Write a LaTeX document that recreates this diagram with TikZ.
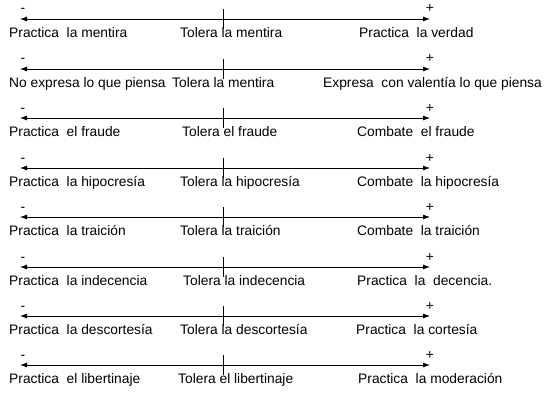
\documentclass[tikz,border=0pt]{standalone}
\usepackage{fontspec}
\setmainfont{Liberation Sans}
\usetikzlibrary{arrows.meta}
\begin{document}
\begin{tikzpicture}[x=1pt,y=-1pt,font=\fontsize{13.8}{16}\selectfont,
    every node/.style={inner sep=0pt,anchor=base west},
    sign/.style={anchor=base}]
      \useasboundingbox (0,0) rectangle (554,404);
      \path
        (20,19) coordinate (l1) (430,19) coordinate (r1) (223,9) coordinate (c1) (223,29) coordinate (d1)
        (20,69) coordinate (l2) (430,69) coordinate (r2) (223,59) coordinate (c2) (223,79) coordinate (d2)
        (20,118) coordinate (l3) (430,118) coordinate (r3) (223,108) coordinate (c3) (223,128) coordinate (d3)
        (20,168) coordinate (l4) (430,168) coordinate (r4) (223,158) coordinate (c4) (223,178) coordinate (d4)
        (20,217) coordinate (l5) (430,217) coordinate (r5) (223,207) coordinate (c5) (223,227) coordinate (d5)
        (20,267) coordinate (l6) (430,267) coordinate (r6) (223,257) coordinate (c6) (223,277) coordinate (d6)
        (20,316) coordinate (l7) (430,316) coordinate (r7) (223,306) coordinate (c7) (223,326) coordinate (d7)
        (20,365) coordinate (l8) (430,365) coordinate (r8) (223,355) coordinate (c8) (223,375) coordinate (d8);
      \draw
        (23,13) node[sign] (m1){-}
        (23,63) node[sign] (m2){-}
        (23,112) node[sign] (m3){-}
        (23,162) node[sign] (m4){-}
        (23,211) node[sign] (m5){-}
        (23,261) node[sign] (m6){-}
        (23,310) node[sign] (m7){-}
        (23,359) node[sign] (m8){-}
        (430,13) node[sign] (p1){+}
        (430,63) node[sign] (p2){+}
        (430,112) node[sign] (p3){+}
        (430,162) node[sign] (p4){+}
        (430,211) node[sign] (p5){+}
        (430,261) node[sign] (p6){+}
        (430,310) node[sign] (p7){+}
        (430,359) node[sign] (p8){+};
      \draw
        (9,37.5) node (a1){Practica\ \ la mentira}
        (180,37.5) node (b1){Tolera la mentira}
        (359,37.5) node (e1){Practica\ \ la verdad}
        (9,87.5) node (a2){No expresa lo que piensa}
        (172,87.5) node (b2){Tolera la mentira}
        (323,87.5) node (e2){Expresa\ \ con valentía lo que piensa}
        (9,136.5) node (a3){Practica\ \ el fraude}
        (182,136.5) node (b3){Tolera el fraude}
        (357,136.5) node (e3){Combate\ \ el fraude}
        (9,186.5) node (a4){Practica\ \ la hipocresía}
        (180,186.5) node (b4){Tolera la hipocresía}
        (357,186.5) node (e4){Combate\ \ la hipocresía}
        (9,235.5) node (a5){Practica\ \ la traición}
        (180,235.5) node (b5){Tolera la traición}
        (357,235.5) node (e5){Combate\ \ la traición}
        (9,285.5) node (a6){Practica\ \ la indecencia}
        (183,285.5) node (b6){Tolera la indecencia}
        (357,285.5) node (e6){Practica\ \ la\ \ decencia.}
        (9,334.5) node (a7){Practica\ \ la descortesía}
        (180,334.5) node (b7){Tolera la descortesía}
        (356,334.5) node (e7){Practica\ \ la cortesía}
        (9,383.5) node (a8){Practica\ \ el libertinaje}
        (178,383.5) node (b8){Tolera el libertinaje}
        (358,383.5) node (e8){Practica\ \ la moderación};
      \begin{scope}[line width=0.8pt,{Latex[length=7pt,width=5pt]}-{Latex[length=7pt,width=5pt]}]
        \draw (l1) to (r1);
        \draw (l2) to (r2);
        \draw (l3) to (r3);
        \draw (l4) to (r4);
        \draw (l5) to (r5);
        \draw (l6) to (r6);
        \draw (l7) to (r7);
        \draw (l8) to (r8);
      \end{scope}
      \begin{scope}[line width=0.8pt]
        \draw (c1) to (d1);
        \draw (c2) to (d2);
        \draw (c3) to (d3);
        \draw (c4) to (d4);
        \draw (c5) to (d5);
        \draw (c6) to (d6);
        \draw (c7) to (d7);
        \draw (c8) to (d8);
      \end{scope}
    \end{tikzpicture}
\end{document}
